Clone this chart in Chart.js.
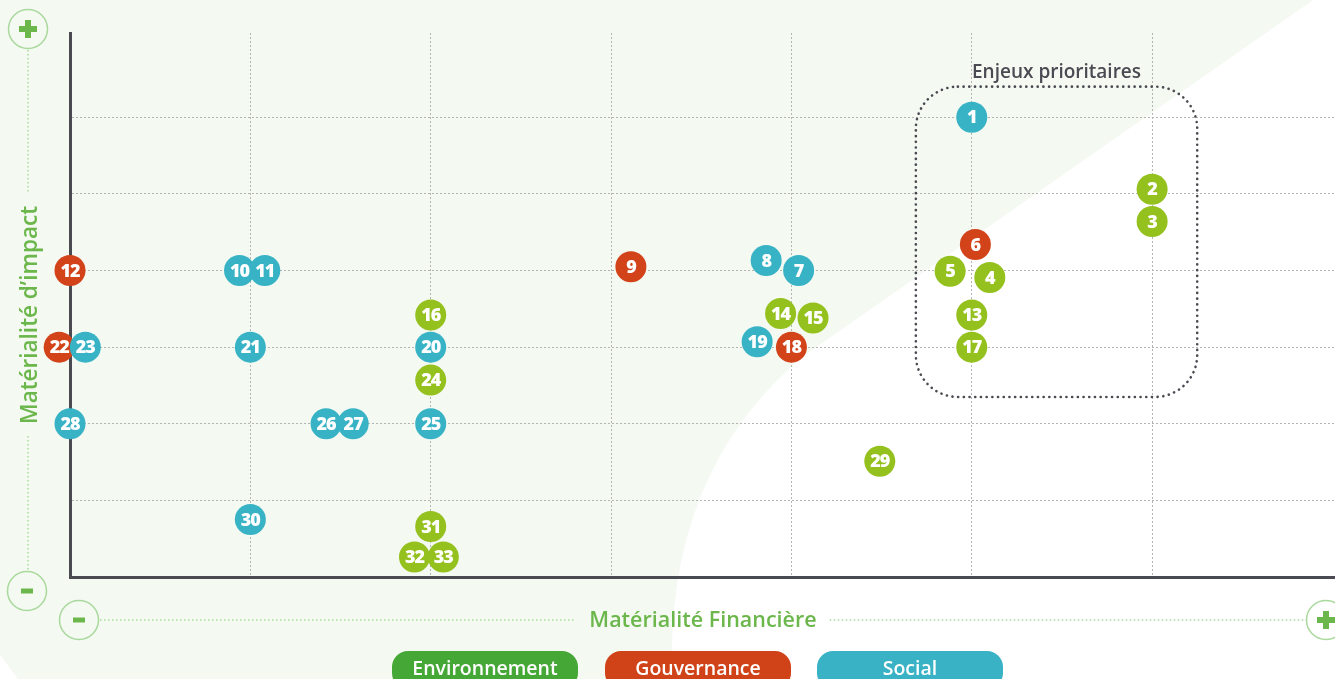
<!DOCTYPE html>
<html lang="fr">
<head>
<meta charset="UTF-8" />
<title>Matrice de double matérialité</title>
<style>
  body { margin: 0; background: #fff; font-family: 'Open Sans', sans-serif; }
  #wrap { position: relative; width: 1335px; height: 679px; overflow: hidden; }
  #matrix { position: absolute; left: 0; top: 0; }
  .pill {
    position: absolute; top: 651px; width: 186px; height: 38px;
    border-radius: 16px; color: #fff; font-size: 19.5px; font-weight: 600;
    text-align: center; line-height: 33px;
  }
</style>
</head>
<body>
<div id="wrap">
  <canvas id="matrix" width="1335" height="679"></canvas>
  <div class="pill" style="left:392px;background:#45a736">Environnement</div>
  <div class="pill" style="left:605px;background:#d04318">Gouvernance</div>
  <div class="pill" style="left:817px;background:#38b2c4">Social</div>
</div>

<script src="https://cdn.jsdelivr.net/npm/chart.js"></script>
<script>
  // enjeux par pilier : numéro, matérialité financière (x), matérialité d'impact (y)
  const envIds = [2, 3, 4, 5, 13, 14, 15, 16, 17, 24, 29, 31, 32, 33];
  const envX   = [6.0, 6.0, 5.1, 4.88, 5.0, 3.94, 4.12, 2.0, 5.0, 2.0, 4.49, 2.0, 1.91, 2.07];
  const envY   = [5.06, 4.64, 3.91, 3.99, 3.42, 3.44, 3.38, 3.42, 3.0, 2.57, 1.51, 0.66, 0.26, 0.26];

  const govIds = [6, 9, 12, 18, 22];
  const govX   = [5.02, 3.11, 0.0, 4.0, -0.06];
  const govY   = [4.34, 4.05, 4.0, 3.0, 3.0];

  const socIds = [1, 7, 8, 10, 11, 19, 20, 21, 23, 25, 26, 27, 28, 30];
  const socX   = [5.0, 4.04, 3.86, 0.94, 1.08, 3.81, 2.0, 1.0, 0.085, 2.0, 1.42, 1.57, 0.0, 1.0];
  const socY   = [6.0, 4.0, 4.13, 4.0, 4.0, 3.07, 3.0, 3.0, 3.0, 2.0, 2.0, 2.0, 2.0, 0.75];

  const gridTicks = [1, 2, 3, 4, 5, 6];
  const xTitle = 'Matérialité Financière';
  const yTitle = 'Matérialité d\u2019impact';
  const boxLabel = 'Enjeux prioritaires';

  const pts = (ids, xs, ys) => ids.map((id, i) => ({ x: xs[i], y: ys[i], id }));

  const GREEN_LINE = '#a9d99d';
  const GREEN_TEXT = '#6cb74c';
  const DARK = '#4a4a52';

  function badge(ctx, cx, cy, plus) {
    ctx.save();
    ctx.strokeStyle = GREEN_LINE;
    ctx.lineWidth = 1.5;
    ctx.beginPath();
    ctx.arc(cx, cy, 19.5, 0, Math.PI * 2);
    ctx.stroke();
    ctx.fillStyle = GREEN_TEXT;
    if (plus) {
      ctx.fillRect(cx - 9, cy - 3, 18, 6);
      ctx.fillRect(cx - 3, cy - 9, 6, 18);
    } else {
      ctx.fillRect(cx - 6, cy - 2.5, 12, 5);
    }
    ctx.restore();
  }

  function dotted(ctx, x1, y1, x2, y2) {
    ctx.save();
    ctx.strokeStyle = GREEN_LINE;
    ctx.lineWidth = 1.5;
    ctx.setLineDash([1.5, 2.5]);
    ctx.beginPath();
    ctx.moveTo(x1, y1);
    ctx.lineTo(x2, y2);
    ctx.stroke();
    ctx.restore();
  }

  // fond vert pâle + zone blanche en bas à droite
  const backdrop = {
    id: 'backdrop',
    beforeDraw(chart) {
      const ctx = chart.ctx;
      ctx.save();
      ctx.fillStyle = '#f4f9f2';
      ctx.fillRect(0, 0, chart.width, chart.height);
      ctx.fillStyle = '#ffffff';
      ctx.beginPath();
      ctx.moveTo(1313, 0);
      ctx.lineTo(805, 355);
      ctx.quadraticCurveTo(665, 470, 672, 679);
      ctx.lineTo(chart.width, chart.height);
      ctx.lineTo(chart.width, 0);
      ctx.closePath();
      ctx.fill();
      ctx.beginPath();
      ctx.moveTo(0, 655);
      ctx.lineTo(18, 679);
      ctx.lineTo(0, 679);
      ctx.fill();
      ctx.restore();
    }
  };

  // cadre "Enjeux prioritaires"
  const priorityBox = {
    id: 'priorityBox',
    beforeDatasetsDraw(chart) {
      const { ctx, scales: { x, y } } = chart;
      const l = x.getPixelForValue(4.69), r = x.getPixelForValue(6.25);
      const t = y.getPixelForValue(6.4), b = y.getPixelForValue(2.35);
      ctx.save();
      ctx.strokeStyle = DARK;
      ctx.lineWidth = 2.6;
      ctx.lineCap = 'round';
      ctx.setLineDash([0.1, 5.6]);
      ctx.beginPath();
      ctx.roundRect(l, t, r - l, b - t, 42);
      ctx.stroke();
      ctx.setLineDash([]);
      ctx.fillStyle = DARK;
      ctx.font = '600 19px "Open Sans"';
      ctx.textAlign = 'center';
      ctx.textBaseline = 'middle';
      ctx.fillText(boxLabel, (l + r) / 2, t - 14);
      ctx.restore();
    }
  };

  // numéros dans les pastilles
  const numbers = {
    id: 'numbers',
    afterDatasetDraw(chart, args) {
      const ctx = chart.ctx;
      const ds = chart.data.datasets[args.index];
      ctx.save();
      ctx.fillStyle = '#fff';
      ctx.font = '800 18px "Open Sans"';
      ctx.letterSpacing = '-1px';
      ctx.textAlign = 'center';
      ctx.textBaseline = 'middle';
      args.meta.data.forEach((el, i) => {
        ctx.fillText(String(ds.data[i].id), el.x, el.y + 1);
      });
      ctx.restore();
    }
  };

  // titres d'axes avec repères + / -
  const axisDecor = {
    id: 'axisDecor',
    afterDraw(chart) {
      const ctx = chart.ctx;
      ctx.save();
      ctx.fillStyle = GREEN_TEXT;
      ctx.font = '600 21.5px "Open Sans"';
      ctx.textAlign = 'center';
      ctx.textBaseline = 'middle';
      const cx = 703, cy = 621;
      ctx.fillText(xTitle, cx, cy);
      const w = ctx.measureText(xTitle).width;
      dotted(ctx, 100, 620, cx - w / 2 - 14, 620);
      dotted(ctx, cx + w / 2 + 13, 620, 1306, 620);
      badge(ctx, 79, 620, false);
      badge(ctx, 1326, 620, true);

      ctx.save();
      ctx.translate(31, 315);
      ctx.rotate(-Math.PI / 2);
      ctx.font = '600 22.5px "Open Sans"';
      ctx.fillText(yTitle, 0, 0);
      const h = ctx.measureText(yTitle).width;
      ctx.restore();
      dotted(ctx, 28, 50, 28, 315 - h / 2 - 12);
      dotted(ctx, 28, 315 + h / 2 + 12, 28, 571);
      badge(ctx, 28, 29, true);
      badge(ctx, 27, 591, false);
      ctx.restore();
    }
  };

  const pointStyle = color => ({
    backgroundColor: color,
    borderWidth: 0,
    pointRadius: 15.5,
    pointHoverRadius: 15.5,
    clip: false
  });

  new Chart(document.getElementById('matrix'), {
    type: 'scatter',
    data: {
      datasets: [
        { label: 'Social', data: pts(socIds, socX, socY), ...pointStyle('#38b3c5'), order: 1 },
        { label: 'Gouvernance', data: pts(govIds, govX, govY), ...pointStyle('#d2431a'), order: 2 },
        { label: 'Environnement', data: pts(envIds, envX, envY), ...pointStyle('#95c11f'), order: 3 }
      ]
    },
    options: {
      responsive: false,
      animation: false,
      layout: { autoPadding: false, padding: { left: 70, top: 33, right: 0, bottom: 102 } },
      plugins: { legend: { display: false }, tooltip: { enabled: false } },
      events: [],
      scales: {
        x: {
          type: 'linear', min: 0, max: 7.014,
          afterBuildTicks: axis => { axis.ticks = gridTicks.map(v => ({ value: v })); },
          ticks: { display: false },
          grid: { color: '#b4b4b4', lineWidth: 1, drawTicks: false },
          border: { display: true, color: DARK, width: 3, dash: [2, 2] }
        },
        y: {
          type: 'linear', min: 0, max: 7.1,
          afterBuildTicks: axis => { axis.ticks = gridTicks.map(v => ({ value: v })); },
          ticks: { display: false },
          grid: { color: '#b4b4b4', lineWidth: 1, drawTicks: false },
          border: { display: true, color: DARK, width: 3, dash: [2, 2] }
        }
      }
    },
    plugins: [backdrop, priorityBox, numbers, axisDecor]
  });
</script>
</body>
</html>
